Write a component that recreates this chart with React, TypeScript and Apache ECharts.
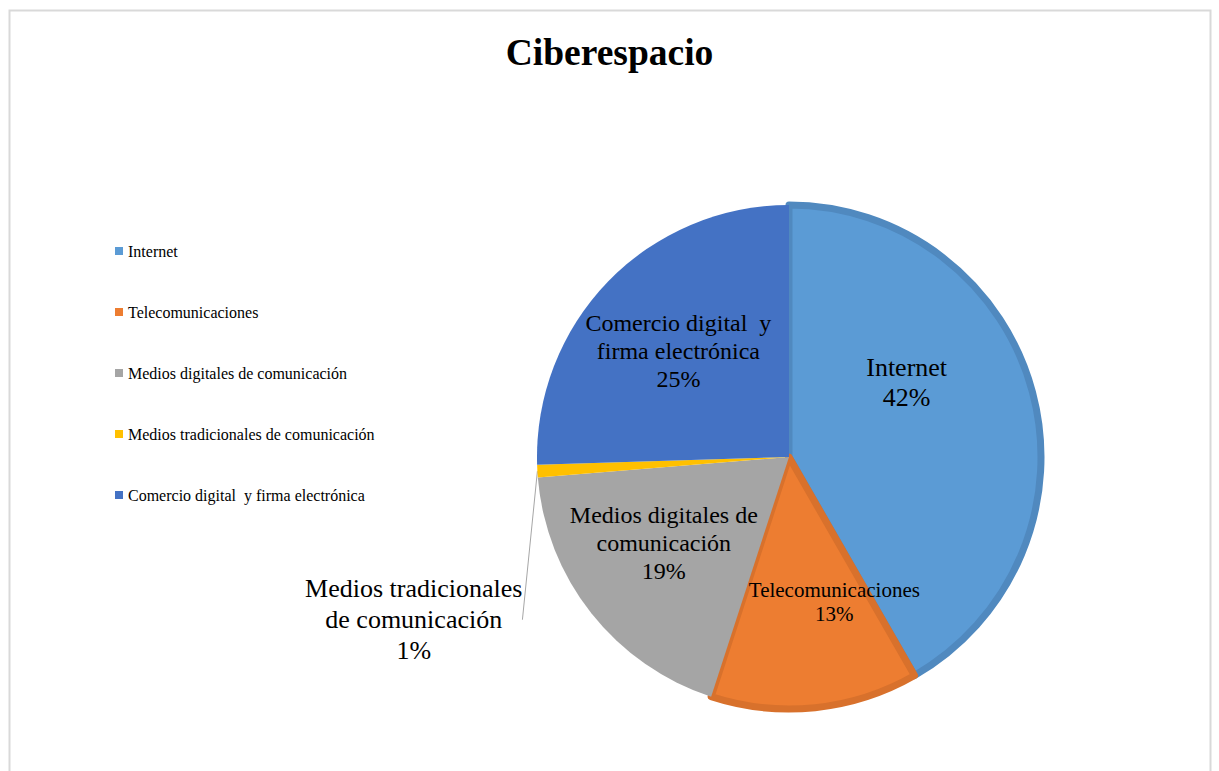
import React, { useEffect, useRef } from "react";
import * as echarts from "echarts";

const TITLE = "Ciberespacio";
const categories = [
  "Internet",
  "Telecomunicaciones",
  "Medios digitales de comunicación",
  "Medios tradicionales de comunicación",
  "Comercio digital  y firma electrónica",
];
const labelNames = [
  "Internet",
  "Telecomunicaciones",
  "Medios digitales de\ncomunicación",
  "Medios tradicionales\nde comunicación",
  "Comercio digital  y\nfirma electrónica",
];
const values = [41.7, 13.3, 18.7, 0.81, 25.49];
const colors = ["#5b9bd5", "#ed7d31", "#a5a5a5", "#ffc000", "#4472c4"];
const borderColors = ["#5089bf", "#d8712c", null, null, null];

// label font sizes / line heights per slice
const labelFont = [26, 21, 24, 26, 24];
const labelLine = [30, 24, 28, 31, 28];
// label nudges (px) relative to library default placement
const labelShift = [
  [-7, -41],
  [32, 17],
  [-24, 6],
  [-5, 148],
  [-18, -16],
];

const FONT = "'Liberation Serif', 'Times New Roman', serif";

export default function App() {
  const ref = useRef<HTMLDivElement>(null);
  useEffect(() => {
    if (!ref.current) return;
    const chart = echarts.init(ref.current, null, { renderer: "svg" });
    const data = categories.map((name, i) => {
      const item: any = {
        name,
        value: values[i],
        itemStyle: {
          color: colors[i],
          borderColor: borderColors[i] || colors[i],
          borderWidth: borderColors[i] ? 7 : 0,
        },
        label: {
          fontSize: labelFont[i],
          lineHeight: labelLine[i],
        },
      };
      if (i === 3) {
        item.label = {
          position: "outside",
          distanceToLabelLine: 0,
          formatter: (p: any) =>
            labelNames[p.dataIndex]
              .split("\n")
              .concat([Math.round(p.percent) + "%"])
              .map((l: string) => "{c|" + l + "}")
              .join("\n"),
          rich: {
            c: {
              align: "center",
              fontSize: labelFont[i],
              lineHeight: labelLine[i],
              fontFamily: FONT,
              color: "#000",
            },
          },
        };
        item.labelLine = {
          show: true,
          length: 10,
          length2: 0,
          lineStyle: { color: "#a6a6a6", width: 1 },
        };
      }
      return item;
    });
    chart.setOption({
      animation: false,
      textStyle: { fontFamily: FONT },
      title: {
        text: TITLE,
        left: "center",
        top: 28,
        textStyle: {
          fontFamily: FONT,
          fontSize: 37.5,
          fontWeight: "bold",
          color: "#000",
        },
      },
      graphic: [
        {
          type: "rect",
          shape: { x: 9.5, y: 10.5, width: 1201, height: 800 },
          style: { fill: "none", stroke: "#d9d9d9", lineWidth: 2 },
          silent: true,
        },
      ],
      legend: {
        orient: "vertical",
        left: 110,
        top: 238,
        itemWidth: 8,
        itemHeight: 8,
        itemGap: 45,
        icon: "rect",
        textStyle: { fontFamily: FONT, fontSize: 16, color: "#000" },
        itemStyle: { borderWidth: 0 },
        data: categories,
      },
      series: [
        {
          type: "pie",
          center: [789, 457],
          radius: 252,
          startAngle: 90,
          clockwise: true,
          avoidLabelOverlap: false,
          data,
          label: {
            show: true,
            position: "inside",
            fontFamily: FONT,
            color: "#000",
            formatter: (p: any) =>
              labelNames[p.dataIndex] + "\n" + Math.round(p.percent) + "%",
          },
          labelLine: { show: false },
          labelLayout: (params: any) => {
            const i = params.dataIndex;
            const s = labelShift[i];
            if (i === 3) {
              const r = params.labelRect;
              return {
                x: r.x + r.width / 2 + s[0],
                y: r.y + r.height / 2 + s[1],
                align: "center",
                verticalAlign: "middle",
              };
            }
            return { dx: s[0], dy: s[1] };
          },
          emphasis: { disabled: true },
        },
      ],
    });
    return () => chart.dispose();
  }, []);
  return (
    <div
      ref={ref}
      style={{ position: "fixed", left: 0, top: 0, width: 1219, height: 771, background: "#fff" }}
    />
  );
}
